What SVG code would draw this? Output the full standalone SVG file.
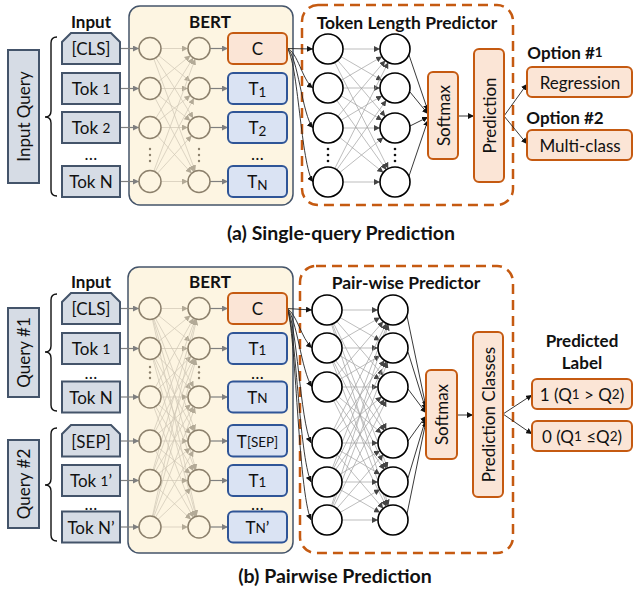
<svg xmlns="http://www.w3.org/2000/svg" width="633" height="590" viewBox="0 0 633 590">
<defs>
<style>
.q{fill:#d6dce5;stroke:#44546a;stroke-width:2}
.bert{fill:#fdf5e2;stroke:#44546a;stroke-width:1.5}
.org{fill:#fbe5d6;stroke:#c55a11;stroke-width:2}
.blu{fill:#dae3f3;stroke:#2f5597;stroke-width:2}
.bn{fill:#fdf5e2;stroke:#8c806c;stroke-width:1.5}
.pn{fill:#fff;stroke:#000;stroke-width:1.6}
.dash{fill:none;stroke:#c55a11;stroke-width:2.5;stroke-dasharray:10 6}
.t{font-family:Lato,"Open Sans",sans-serif;font-size:17px;fill:#111;text-anchor:middle;dominant-baseline:central}
.b{font-weight:bold}
.h{font-size:17.5px}
.cap{font-size:19.5px}
.s{font-size:13.5px}
.mb{stroke:#cfc6b4;stroke-width:0.7;marker-end:url(#am)}
.mp{stroke:#a0a0a0;stroke-width:0.7;marker-end:url(#ap)}
.ga{stroke:#7f7f7f;stroke-width:1.2;fill:none;marker-end:url(#ag)}
.ka{stroke:#222;stroke-width:0.9;fill:none;marker-end:url(#ak)}
.br{fill:none;stroke:#111;stroke-width:1.4}
.dot{fill:#8c806c}
.pdot{fill:#111}
</style>
<marker id="ag" viewBox="0 0 6 6" markerWidth="6" markerHeight="6" markerUnits="userSpaceOnUse" refX="6" refY="3" orient="auto"><path d="M0,0L6,3L0,6z" fill="#7f7f7f"/></marker>
<marker id="ak" viewBox="0 0 6 6" markerWidth="6" markerHeight="6" markerUnits="userSpaceOnUse" refX="6" refY="3" orient="auto"><path d="M0,0L6,3L0,6z" fill="#111"/></marker>
<marker id="am" viewBox="0 0 6 6" markerWidth="6" markerHeight="6" markerUnits="userSpaceOnUse" refX="17" refY="3" orient="auto"><path d="M0,0L6,3L0,6z" fill="#b3aa97"/></marker>
<marker id="ap" viewBox="0 0 6 6" markerWidth="6" markerHeight="6" markerUnits="userSpaceOnUse" refX="21" refY="3" orient="auto"><path d="M0,0L6,3L0,6z" fill="#444"/></marker>
</defs>
<rect width="633" height="590" fill="#fff"/>

<!-- containers -->
<g id="bert-a"><rect class="bert" x="129" y="6" width="164" height="199" rx="11"/><text class="t b" x="210" y="21">BERT</text></g>
<g id="predictor-a"><rect class="dash" x="302" y="5" width="211" height="200" rx="16"/><text class="t b h" x="407" y="22">Token Length Predictor</text></g>
<g id="bert-b"><rect class="bert" x="128" y="267" width="165" height="286" rx="11"/><text class="t b" x="210" y="281">BERT</text></g>
<g id="predictor-b"><rect class="dash" x="300" y="266" width="213" height="287" rx="16"/><text class="t b h" x="406" y="282">Pair-wise Predictor</text></g>

<!-- connectors -->
<g id="connectors">
<!-- (a) input to BERT -->
<line class="ga" x1="120" y1="48.5" x2="139" y2="48.5"/>
<line class="ga" x1="120" y1="88.5" x2="139" y2="88.5"/>
<line class="ga" x1="120" y1="127.5" x2="139" y2="127.5"/>
<line class="ga" x1="120" y1="181.5" x2="139" y2="181.5"/>
<line class="ga" x1="210" y1="48.5" x2="228" y2="48.5"/>
<line class="ga" x1="210" y1="88.5" x2="228" y2="88.5"/>
<line class="ga" x1="210" y1="127.5" x2="228" y2="127.5"/>
<line class="ga" x1="210" y1="181.5" x2="228" y2="181.5"/>
<!-- (a) BERT mesh -->
<line class="mb" x1="150" y1="48.5" x2="199" y2="48.5"/><line class="mb" x1="150" y1="48.5" x2="199" y2="88.5"/><line class="mb" x1="150" y1="48.5" x2="199" y2="127.5"/><line class="mb" x1="150" y1="48.5" x2="199" y2="181.5"/>
<line class="mb" x1="150" y1="88.5" x2="199" y2="48.5"/><line class="mb" x1="150" y1="88.5" x2="199" y2="88.5"/><line class="mb" x1="150" y1="88.5" x2="199" y2="127.5"/><line class="mb" x1="150" y1="88.5" x2="199" y2="181.5"/>
<line class="mb" x1="150" y1="127.5" x2="199" y2="48.5"/><line class="mb" x1="150" y1="127.5" x2="199" y2="88.5"/><line class="mb" x1="150" y1="127.5" x2="199" y2="127.5"/><line class="mb" x1="150" y1="127.5" x2="199" y2="181.5"/>
<line class="mb" x1="150" y1="181.5" x2="199" y2="48.5"/><line class="mb" x1="150" y1="181.5" x2="199" y2="88.5"/><line class="mb" x1="150" y1="181.5" x2="199" y2="127.5"/><line class="mb" x1="150" y1="181.5" x2="199" y2="181.5"/>
<!-- (a) C to predictor -->
<path class="ka" d="M287,48.5 L313,49"/>
<path class="ka" d="M287,48.5 C298,52 302,80 313,88"/>
<path class="ka" d="M287,48.5 C298,55 302,115 313,128"/>
<path class="ka" d="M287,48.5 C298,60 301,165 313,182"/>
<!-- (a) predictor mesh -->
<line class="mp" x1="328" y1="49" x2="395" y2="49"/><line class="mp" x1="328" y1="49" x2="395" y2="88"/><line class="mp" x1="328" y1="49" x2="395" y2="128"/><line class="mp" x1="328" y1="49" x2="395" y2="182"/>
<line class="mp" x1="328" y1="88" x2="395" y2="49"/><line class="mp" x1="328" y1="88" x2="395" y2="88"/><line class="mp" x1="328" y1="88" x2="395" y2="128"/><line class="mp" x1="328" y1="88" x2="395" y2="182"/>
<line class="mp" x1="328" y1="128" x2="395" y2="49"/><line class="mp" x1="328" y1="128" x2="395" y2="88"/><line class="mp" x1="328" y1="128" x2="395" y2="128"/><line class="mp" x1="328" y1="128" x2="395" y2="182"/>
<line class="mp" x1="328" y1="182" x2="395" y2="49"/><line class="mp" x1="328" y1="182" x2="395" y2="88"/><line class="mp" x1="328" y1="182" x2="395" y2="128"/><line class="mp" x1="328" y1="182" x2="395" y2="182"/>
<!-- (a) to softmax -->
<line class="ka" x1="409" y1="55" x2="428" y2="111"/>
<line class="ka" x1="410" y1="92" x2="428" y2="114"/>
<line class="ka" x1="410" y1="126" x2="428" y2="117"/>
<line class="ka" x1="409" y1="176" x2="428" y2="120"/>
<line class="ka" x1="458" y1="116" x2="474" y2="116"/>
<line class="ka" x1="504" y1="116" x2="527" y2="84"/>
<line class="ka" x1="504" y1="116" x2="527" y2="144"/>

<!-- (b) input to BERT -->
<line class="ga" x1="120" y1="308.5" x2="139" y2="308.5"/>
<line class="ga" x1="120" y1="348.5" x2="139" y2="348.5"/>
<line class="ga" x1="120" y1="397" x2="139" y2="397"/>
<line class="ga" x1="120" y1="441" x2="139" y2="441"/>
<line class="ga" x1="120" y1="480.5" x2="139" y2="480.5"/>
<line class="ga" x1="120" y1="527" x2="139" y2="527"/>
<line class="ga" x1="210" y1="308.5" x2="228" y2="308.5"/>
<line class="ga" x1="210" y1="348.5" x2="228" y2="348.5"/>
<line class="ga" x1="210" y1="397" x2="228" y2="397"/>
<line class="ga" x1="210" y1="441" x2="228" y2="441"/>
<line class="ga" x1="210" y1="480.5" x2="228" y2="480.5"/>
<line class="ga" x1="210" y1="527" x2="228" y2="527"/>
<!-- (b) BERT mesh -->
<line class="mb" x1="150" y1="308.5" x2="199" y2="308.5"/><line class="mb" x1="150" y1="308.5" x2="199" y2="348.5"/><line class="mb" x1="150" y1="308.5" x2="199" y2="397"/><line class="mb" x1="150" y1="308.5" x2="199" y2="441"/><line class="mb" x1="150" y1="308.5" x2="199" y2="480.5"/><line class="mb" x1="150" y1="308.5" x2="199" y2="527"/>
<line class="mb" x1="150" y1="348.5" x2="199" y2="308.5"/><line class="mb" x1="150" y1="348.5" x2="199" y2="348.5"/><line class="mb" x1="150" y1="348.5" x2="199" y2="397"/><line class="mb" x1="150" y1="348.5" x2="199" y2="441"/><line class="mb" x1="150" y1="348.5" x2="199" y2="480.5"/><line class="mb" x1="150" y1="348.5" x2="199" y2="527"/>
<line class="mb" x1="150" y1="397" x2="199" y2="308.5"/><line class="mb" x1="150" y1="397" x2="199" y2="348.5"/><line class="mb" x1="150" y1="397" x2="199" y2="397"/><line class="mb" x1="150" y1="397" x2="199" y2="441"/><line class="mb" x1="150" y1="397" x2="199" y2="480.5"/><line class="mb" x1="150" y1="397" x2="199" y2="527"/>
<line class="mb" x1="150" y1="441" x2="199" y2="308.5"/><line class="mb" x1="150" y1="441" x2="199" y2="348.5"/><line class="mb" x1="150" y1="441" x2="199" y2="397"/><line class="mb" x1="150" y1="441" x2="199" y2="441"/><line class="mb" x1="150" y1="441" x2="199" y2="480.5"/><line class="mb" x1="150" y1="441" x2="199" y2="527"/>
<line class="mb" x1="150" y1="480.5" x2="199" y2="308.5"/><line class="mb" x1="150" y1="480.5" x2="199" y2="348.5"/><line class="mb" x1="150" y1="480.5" x2="199" y2="397"/><line class="mb" x1="150" y1="480.5" x2="199" y2="441"/><line class="mb" x1="150" y1="480.5" x2="199" y2="480.5"/><line class="mb" x1="150" y1="480.5" x2="199" y2="527"/>
<line class="mb" x1="150" y1="527" x2="199" y2="308.5"/><line class="mb" x1="150" y1="527" x2="199" y2="348.5"/><line class="mb" x1="150" y1="527" x2="199" y2="397"/><line class="mb" x1="150" y1="527" x2="199" y2="441"/><line class="mb" x1="150" y1="527" x2="199" y2="480.5"/><line class="mb" x1="150" y1="527" x2="199" y2="527"/>
<!-- (b) C to predictor -->
<path class="ka" d="M287,308.5 L312,310"/>
<path class="ka" d="M287,308.5 C297,314 301,338 312,348"/>
<path class="ka" d="M287,308.5 C297,318 301,370 312,387"/>
<path class="ka" d="M287,308.5 C297,322 300,420 311,443"/>
<path class="ka" d="M287,308.5 C296,326 299,455 311,482"/>
<path class="ka" d="M287,308.5 C296,330 298,490 311,520"/>
<!-- (b) predictor mesh -->
<line class="mp" x1="327" y1="310" x2="393" y2="310"/><line class="mp" x1="327" y1="310" x2="393" y2="348"/><line class="mp" x1="327" y1="310" x2="393" y2="387"/><line class="mp" x1="327" y1="310" x2="393" y2="443"/><line class="mp" x1="327" y1="310" x2="393" y2="482"/><line class="mp" x1="327" y1="310" x2="393" y2="520"/>
<line class="mp" x1="327" y1="348" x2="393" y2="310"/><line class="mp" x1="327" y1="348" x2="393" y2="348"/><line class="mp" x1="327" y1="348" x2="393" y2="387"/><line class="mp" x1="327" y1="348" x2="393" y2="443"/><line class="mp" x1="327" y1="348" x2="393" y2="482"/><line class="mp" x1="327" y1="348" x2="393" y2="520"/>
<line class="mp" x1="327" y1="387" x2="393" y2="310"/><line class="mp" x1="327" y1="387" x2="393" y2="348"/><line class="mp" x1="327" y1="387" x2="393" y2="387"/><line class="mp" x1="327" y1="387" x2="393" y2="443"/><line class="mp" x1="327" y1="387" x2="393" y2="482"/><line class="mp" x1="327" y1="387" x2="393" y2="520"/>
<line class="mp" x1="327" y1="443" x2="393" y2="310"/><line class="mp" x1="327" y1="443" x2="393" y2="348"/><line class="mp" x1="327" y1="443" x2="393" y2="387"/><line class="mp" x1="327" y1="443" x2="393" y2="443"/><line class="mp" x1="327" y1="443" x2="393" y2="482"/><line class="mp" x1="327" y1="443" x2="393" y2="520"/>
<line class="mp" x1="327" y1="482" x2="393" y2="310"/><line class="mp" x1="327" y1="482" x2="393" y2="348"/><line class="mp" x1="327" y1="482" x2="393" y2="387"/><line class="mp" x1="327" y1="482" x2="393" y2="443"/><line class="mp" x1="327" y1="482" x2="393" y2="482"/><line class="mp" x1="327" y1="482" x2="393" y2="520"/>
<line class="mp" x1="327" y1="520" x2="393" y2="310"/><line class="mp" x1="327" y1="520" x2="393" y2="348"/><line class="mp" x1="327" y1="520" x2="393" y2="387"/><line class="mp" x1="327" y1="520" x2="393" y2="443"/><line class="mp" x1="327" y1="520" x2="393" y2="482"/><line class="mp" x1="327" y1="520" x2="393" y2="520"/>
<!-- (b) to softmax -->
<line class="ka" x1="407" y1="316" x2="426" y2="407"/>
<line class="ka" x1="408" y1="352" x2="426" y2="410"/>
<line class="ka" x1="408" y1="389" x2="426" y2="413"/>
<line class="ka" x1="408" y1="441" x2="426" y2="416"/>
<line class="ka" x1="408" y1="478" x2="426" y2="418"/>
<line class="ka" x1="407" y1="514" x2="426" y2="421"/>
<line class="ka" x1="457" y1="415" x2="473" y2="415"/>
<line class="ka" x1="503" y1="414" x2="532" y2="395"/>
<line class="ka" x1="503" y1="414" x2="532" y2="434"/>
</g>

<!-- (a) nodes -->
<g id="input-label-a"><text class="t b" x="91" y="21">Input</text></g>
<g id="input-query"><rect class="q" x="8" y="50" width="31" height="133"/><text class="t" transform="rotate(-90 23.5 116.5)" x="23.5" y="116.5">Input Query</text></g>
<g id="brace-a"><path class="br" d="M57,37 Q51,37 51,43 L51,111 Q51,117 45,117 Q51,117 51,123 L51,190 Q51,196 57,196"/></g>
<g id="cls-a"><path class="q" d="M71,33 L111,33 L120,42 L120,64 L62,64 L62,42 Z"/><text class="t" x="91" y="48.5">[CLS]</text></g>
<g id="tok1-a"><rect class="q" x="62" y="73" width="58" height="31"/><text class="t" x="91" y="88.5">Tok <tspan class="s">1</tspan></text></g>
<g id="tok2-a"><rect class="q" x="62" y="112" width="58" height="31"/><text class="t" x="91" y="127.5">Tok <tspan class="s">2</tspan></text></g>
<g id="tokdots-a"><text class="t" x="91" y="153">…</text></g>
<g id="tokn-a"><rect class="q" x="62" y="166" width="58" height="31"/><text class="t" x="91" y="181.5">Tok N</text></g>
<g id="bert-l1-a">
<circle class="bn" cx="150" cy="48.5" r="11"/><circle class="bn" cx="150" cy="88.5" r="11"/><circle class="bn" cx="150" cy="127.5" r="11"/><circle class="bn" cx="150" cy="181.5" r="11"/>
<circle class="dot" cx="150" cy="149" r="1.2"/><circle class="dot" cx="150" cy="155" r="1.2"/><circle class="dot" cx="150" cy="161" r="1.2"/>
</g>
<g id="bert-l2-a">
<circle class="bn" cx="199" cy="48.5" r="11"/><circle class="bn" cx="199" cy="88.5" r="11"/><circle class="bn" cx="199" cy="127.5" r="11"/><circle class="bn" cx="199" cy="181.5" r="11"/>
<circle class="dot" cx="199" cy="149" r="1.2"/><circle class="dot" cx="199" cy="155" r="1.2"/><circle class="dot" cx="199" cy="161" r="1.2"/>
</g>
<g id="c-a"><rect class="org" x="228" y="33" width="59" height="31" rx="5"/><text class="t" x="257.5" y="48.5">C</text></g>
<g id="t1-a"><rect class="blu" x="228" y="73" width="59" height="31" rx="5"/><text class="t" x="257.5" y="88.5">T<tspan class="s" dy="3">1</tspan></text></g>
<g id="t2-a"><rect class="blu" x="228" y="112" width="59" height="31" rx="5"/><text class="t" x="257.5" y="127.5">T<tspan class="s" dy="3">2</tspan></text></g>
<g id="tdots-a"><text class="t" x="257.5" y="153">…</text></g>
<g id="tn-a"><rect class="blu" x="228" y="166" width="59" height="31" rx="5"/><text class="t" x="257.5" y="181.5">T<tspan class="s" dy="3">N</tspan></text></g>
<g id="pred-l1-a">
<circle class="pn" cx="328" cy="49" r="15"/><circle class="pn" cx="328" cy="88" r="15"/><circle class="pn" cx="328" cy="128" r="15"/><circle class="pn" cx="328" cy="182" r="15"/>
<circle class="pdot" cx="328" cy="149" r="1.3"/><circle class="pdot" cx="328" cy="155" r="1.3"/><circle class="pdot" cx="328" cy="161" r="1.3"/>
</g>
<g id="pred-l2-a">
<circle class="pn" cx="395" cy="49" r="15"/><circle class="pn" cx="395" cy="88" r="15"/><circle class="pn" cx="395" cy="128" r="15"/><circle class="pn" cx="395" cy="182" r="15"/>
<circle class="pdot" cx="395" cy="149" r="1.3"/><circle class="pdot" cx="395" cy="155" r="1.3"/><circle class="pdot" cx="395" cy="161" r="1.3"/>
</g>
<g id="softmax-a"><rect class="org" x="428" y="72" width="30" height="87" rx="5"/><text class="t" transform="rotate(-90 443 115.5)" x="443" y="115.5">Softmax</text></g>
<g id="prediction-a"><rect class="org" x="474" y="49" width="30" height="133" rx="5"/><text class="t" transform="rotate(-90 489 115.5)" x="489" y="115.5">Prediction</text></g>
<g id="option1"><text class="t b" x="565" y="52">Option #<tspan class="s">1</tspan></text></g>
<g id="regression"><rect class="org" x="527" y="67" width="105" height="30" rx="5"/><text class="t" x="580" y="82">Regression</text></g>
<g id="option2"><text class="t b" x="565" y="117">Option #2</text></g>
<g id="multiclass"><rect class="org" x="527" y="130" width="105" height="30" rx="5"/><text class="t" x="580" y="145">Multi-class</text></g>
<g id="caption-a"><text class="t b cap" x="341" y="232">(a) Single-query Prediction</text></g>

<!-- (b) nodes -->
<g id="input-label-b"><text class="t b" x="91" y="281">Input</text></g>
<g id="query1"><rect class="q" x="8" y="308" width="31" height="89"/><text class="t" transform="rotate(-90 23.5 352.5)" x="23.5" y="352.5">Query #1</text></g>
<g id="brace-b1"><path class="br" d="M57,294 Q51,294 51,300 L51,346 Q51,352 45,352 Q51,352 51,358 L51,405 Q51,411 57,411"/></g>
<g id="cls-b"><path class="q" d="M71,293 L111,293 L120,302 L120,324 L62,324 L62,302 Z"/><text class="t" x="91" y="308.5">[CLS]</text></g>
<g id="tok1-b"><rect class="q" x="62" y="333" width="58" height="31"/><text class="t" x="91" y="348.5">Tok <tspan class="s">1</tspan></text></g>
<g id="tokdots-b1"><text class="t" x="91" y="372">…</text></g>
<g id="tokn-b"><rect class="q" x="62" y="381.5" width="58" height="31"/><text class="t" x="91" y="397">Tok N</text></g>
<g id="query2"><rect class="q" x="8" y="440" width="31" height="88"/><text class="t" transform="rotate(-90 23.5 484)" x="23.5" y="484">Query #2</text></g>
<g id="brace-b2"><path class="br" d="M57,428 Q51,428 51,434 L51,479 Q51,485 45,485 Q51,485 51,491 L51,535 Q51,541 57,541"/></g>
<g id="sep-b"><path class="q" d="M71,425 L111,425 L120,434 L120,456.5 L62,456.5 L62,434 Z"/><text class="t" x="91" y="441">[SEP]</text></g>
<g id="tok1p-b"><rect class="q" x="62" y="465" width="58" height="31"/><text class="t" x="91" y="480.5">Tok <tspan class="s">1</tspan>’</text></g>
<g id="tokdots-b2"><text class="t" x="91" y="503">…</text></g>
<g id="toknp-b"><rect class="q" x="62" y="511.5" width="58" height="31"/><text class="t" x="91" y="527">Tok N’</text></g>
<g id="bert-l1-b">
<circle class="bn" cx="150" cy="308.5" r="11"/><circle class="bn" cx="150" cy="348.5" r="11"/><circle class="bn" cx="150" cy="397" r="11"/><circle class="bn" cx="150" cy="441" r="11"/><circle class="bn" cx="150" cy="480.5" r="11"/><circle class="bn" cx="150" cy="527" r="11"/>
<circle class="dot" cx="150" cy="367" r="1.2"/><circle class="dot" cx="150" cy="372.5" r="1.2"/><circle class="dot" cx="150" cy="378" r="1.2"/>
</g>
<g id="bert-l2-b">
<circle class="bn" cx="199" cy="308.5" r="11"/><circle class="bn" cx="199" cy="348.5" r="11"/><circle class="bn" cx="199" cy="397" r="11"/><circle class="bn" cx="199" cy="441" r="11"/><circle class="bn" cx="199" cy="480.5" r="11"/><circle class="bn" cx="199" cy="527" r="11"/>
<circle class="dot" cx="199" cy="367" r="1.2"/><circle class="dot" cx="199" cy="372.5" r="1.2"/><circle class="dot" cx="199" cy="378" r="1.2"/>
</g>
<g id="c-b"><rect class="org" x="228" y="293" width="59" height="31" rx="5"/><text class="t" x="257.5" y="308.5">C</text></g>
<g id="t1-b"><rect class="blu" x="228" y="333" width="59" height="31" rx="5"/><text class="t" x="257.5" y="348.5">T<tspan class="s" dy="1">1</tspan></text></g>
<g id="tdots-b1"><text class="t" x="257.5" y="372">…</text></g>
<g id="tn-b"><rect class="blu" x="228" y="381.5" width="59" height="31" rx="5"/><text class="t" x="257.5" y="397">T<tspan class="s" dy="1">N</tspan></text></g>
<g id="tsep-b"><rect class="blu" x="228" y="425" width="59" height="31.5" rx="5"/><text class="t" x="257.5" y="441">T<tspan class="s" dy="1">[SEP]</tspan></text></g>
<g id="t1p-b"><rect class="blu" x="228" y="465" width="59" height="31" rx="5"/><text class="t" x="257.5" y="480.5">T<tspan class="s" dy="1">1</tspan></text></g>
<g id="tdots-b2"><text class="t" x="257.5" y="503">…</text></g>
<g id="tnp-b"><rect class="blu" x="228" y="511.5" width="59" height="31" rx="5"/><text class="t" x="257.5" y="527">T<tspan class="s" dy="1">N</tspan><tspan dy="-1">’</tspan></text></g>
<g id="pred-l1-b">
<circle class="pn" cx="327" cy="310" r="15"/><circle class="pn" cx="327" cy="348" r="15"/><circle class="pn" cx="327" cy="387" r="15"/><circle class="pn" cx="327" cy="443" r="15"/><circle class="pn" cx="327" cy="482" r="15"/><circle class="pn" cx="327" cy="520" r="15"/>
</g>
<g id="pred-l2-b">
<circle class="pn" cx="393" cy="310" r="15"/><circle class="pn" cx="393" cy="348" r="15"/><circle class="pn" cx="393" cy="387" r="15"/><circle class="pn" cx="393" cy="443" r="15"/><circle class="pn" cx="393" cy="482" r="15"/><circle class="pn" cx="393" cy="520" r="15"/>
</g>
<g id="softmax-b"><rect class="org" x="426" y="370" width="31" height="89" rx="5"/><text class="t" transform="rotate(-90 441.5 414.5)" x="441.5" y="414.5">Softmax</text></g>
<g id="prediction-classes"><rect class="org" x="473" y="332" width="30" height="165" rx="5"/><text class="t" transform="rotate(-90 488 414.5)" x="488" y="414.5">Prediction Classes</text></g>
<g id="predicted-label"><text class="t b" x="582" y="340">Predicted</text><text class="t b" x="582" y="362">Label</text></g>
<g id="label1"><rect class="org" x="532" y="379" width="100" height="30" rx="5"/><text class="t" x="582" y="394">1 (Q<tspan class="s">1</tspan> &gt; Q<tspan class="s">2</tspan>)</text></g>
<g id="label0"><rect class="org" x="532" y="421" width="100" height="30" rx="5"/><text class="t" x="582" y="436">0 (Q<tspan class="s">1</tspan> ≤Q<tspan class="s">2</tspan>)</text></g>
<g id="caption-b"><text class="t b cap" x="335" y="575">(b) Pairwise Prediction</text></g>
</svg>
